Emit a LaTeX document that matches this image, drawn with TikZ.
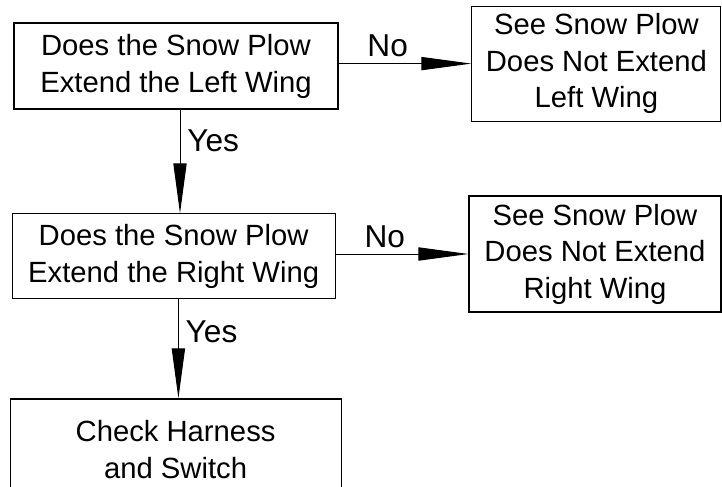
\documentclass[tikz,border=0pt]{standalone}
\usepackage{fontspec}
\setmainfont{Liberation Sans}
\usetikzlibrary{arrows.meta}

\tikzset{
    question/.style={draw, line width=0.8pt, align=center, inner sep=0pt,
        minimum width=8.1cm, minimum height=2.15cm,
        font=\fontsize{20.8}{26.3}\selectfont},
    answer/.style={draw, line width=0.8pt, align=center, inner sep=0pt,
        minimum width=6.25cm, minimum height=2.9cm,
        font=\fontsize{20.8}{26}\selectfont},
    flow/.style={-{Triangle[length=1.25cm,width=0.33cm]}, line width=0.7pt},
    tag/.style={inner sep=0pt, font=\fontsize{22.5}{26}\selectfont}
}

\begin{document}
\begin{tikzpicture}
        \useasboundingbox (0,0) rectangle (18.05,-12.15);
        
        % the two questions and the last step
        \node[question] (left) at (4.4,-1.65) {Does the Snow Plow\\Extend the Left Wing};
        \node[question, minimum width=8.075cm, minimum height=2.125cm] (right) at (4.34,-6.41) {Does the Snow Plow\\Extend the Right Wing};
        \node[question, minimum width=8.275cm, minimum height=2.53cm] (check) at (4.39,-11.24) {Check Harness\\and Switch};
        
        % where a No answer leads
        \node[answer, minimum width=6.225cm, minimum height=2.875cm] (noleft) at (14.91,-1.59) {See Snow Plow\\Does Not Extend\\Left Wing};
        \node[answer, minimum width=6.3cm] (noright) at (14.875,-6.35) {See Snow Plow\\Does Not Extend\\Right Wing};
        
        \draw[flow] (noleft.west -| left.east) -- (noleft.west) node[tag, pos=0.37, above=0.15cm] {No};
        \draw[flow] (noright.west -| right.east) -- (noright.west) node[tag, pos=0.37, above=0.15cm] {No};
        
        \draw[flow] ([xshift=0.1cm]left.south) -- ([xshift=0.1cm]left.south |- right.north) node[tag, pos=0.3, right=0.17cm] {Yes};
        \draw[flow] ([xshift=0.12cm]right.south) -- ([xshift=0.12cm]right.south |- check.north) node[tag, pos=0.33, right=0.17cm] {Yes};
        
    \end{tikzpicture}
\end{document}
